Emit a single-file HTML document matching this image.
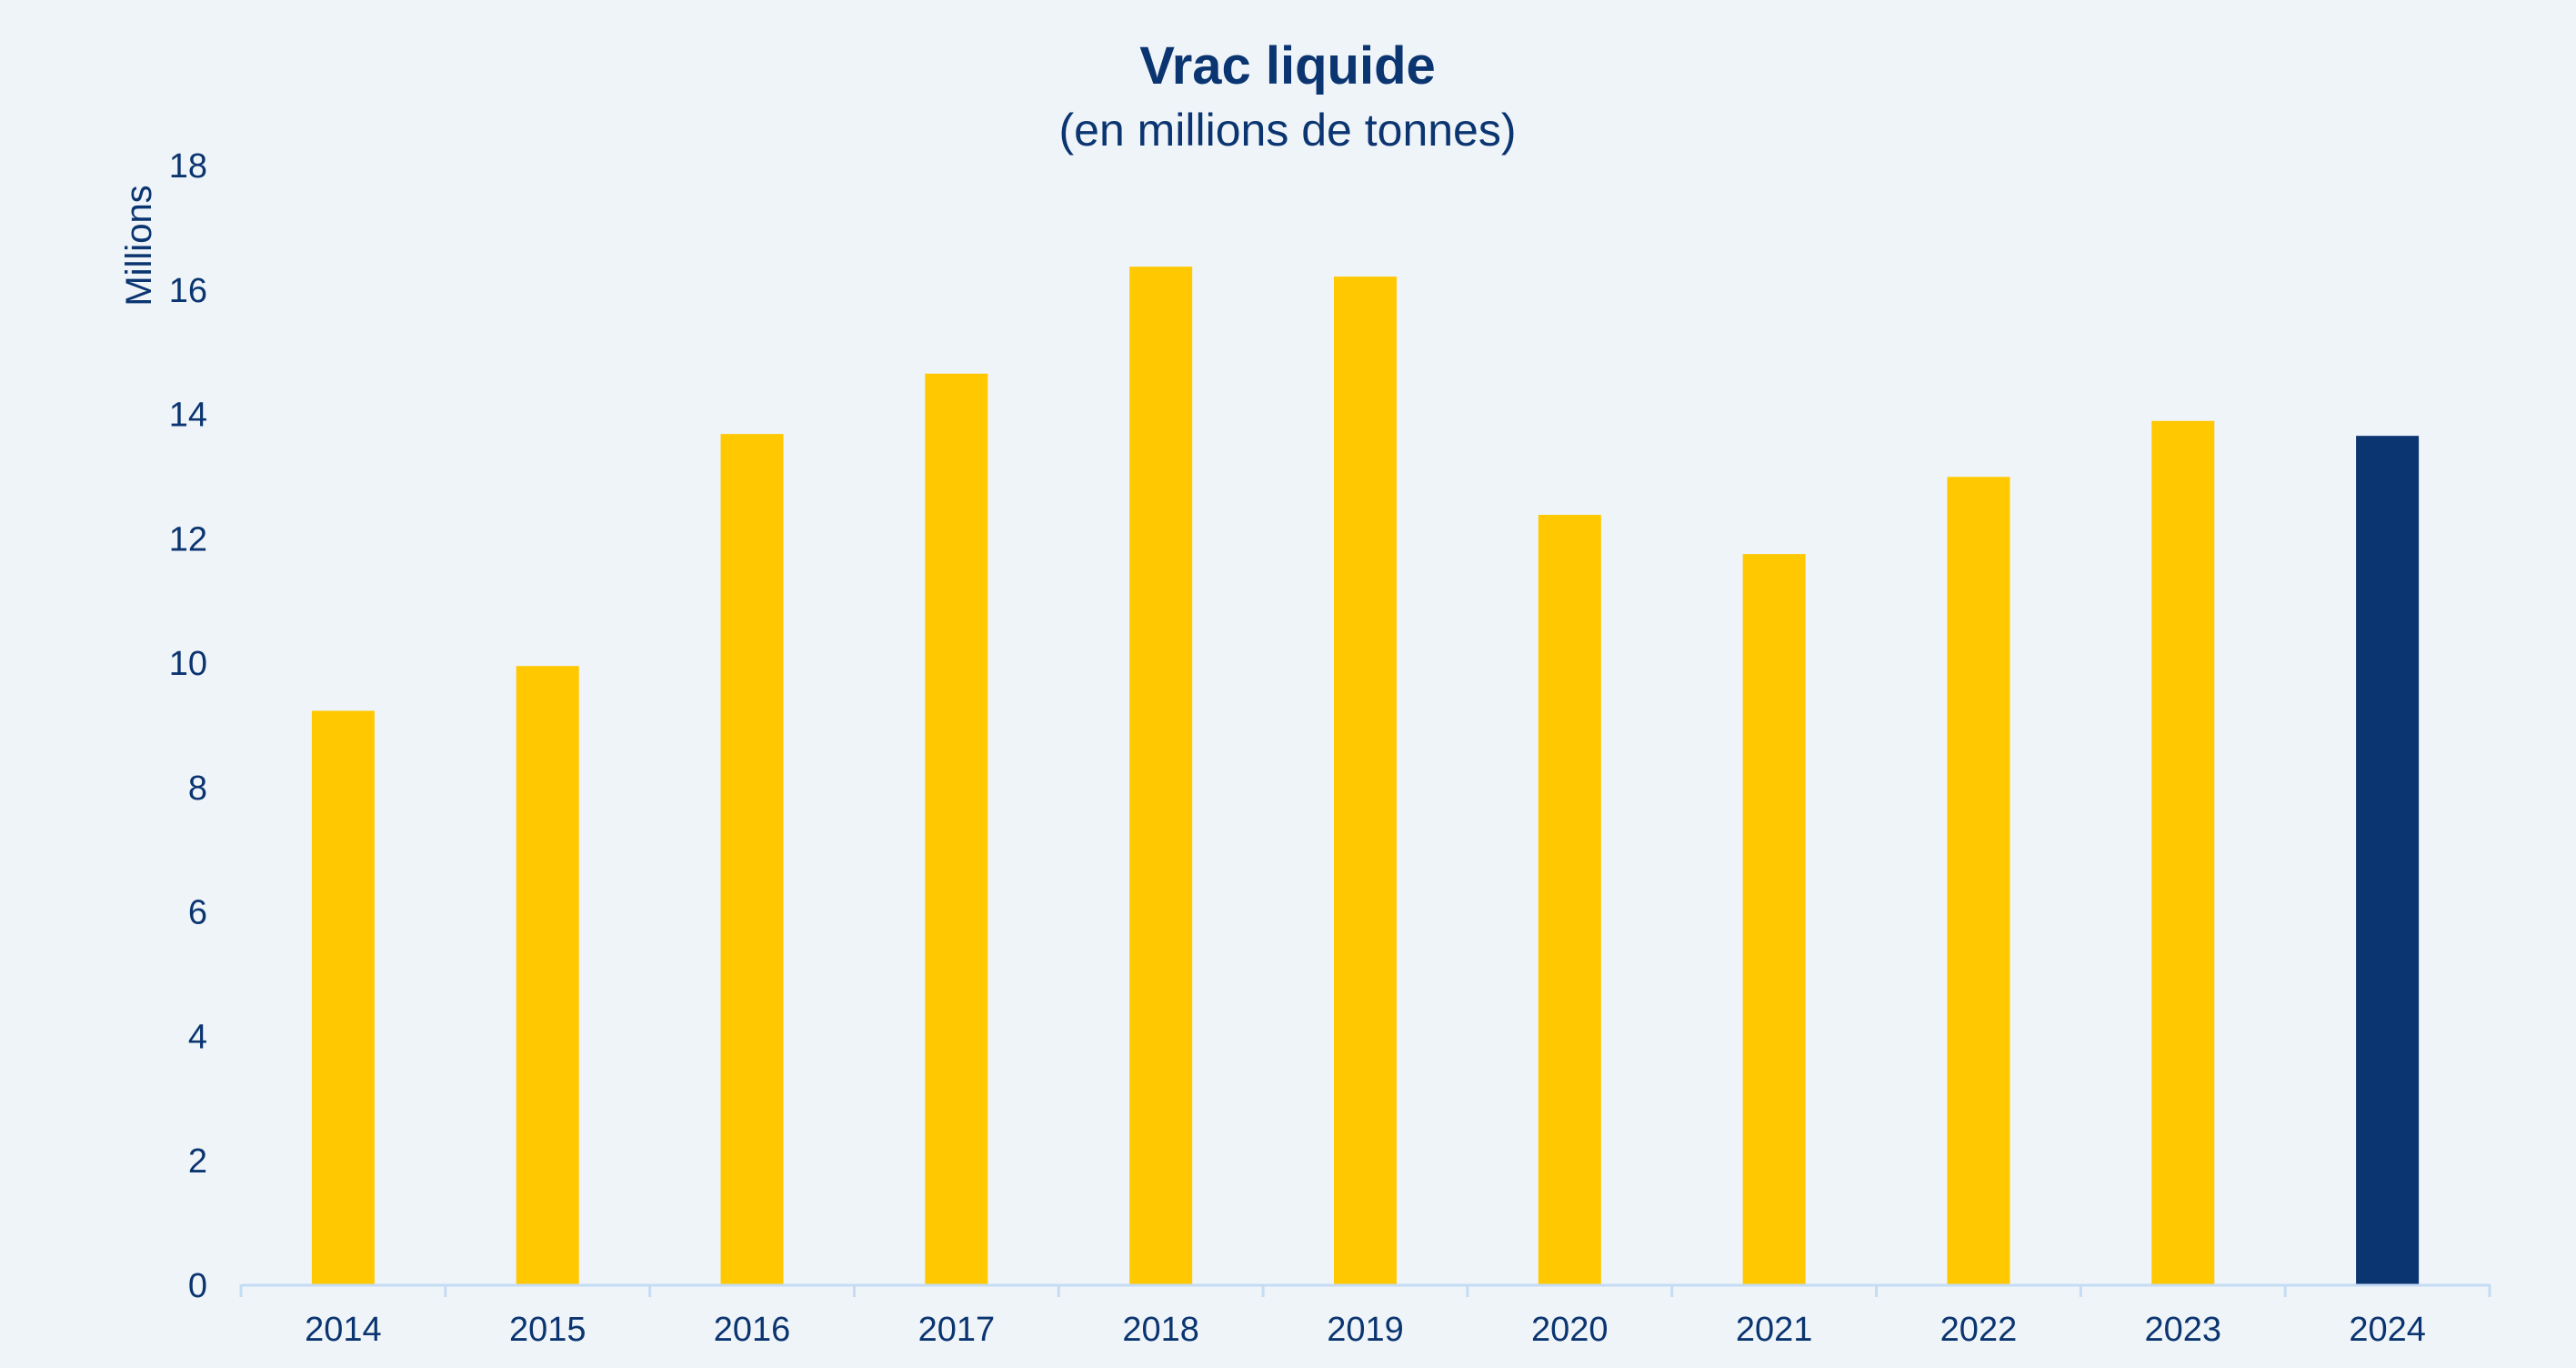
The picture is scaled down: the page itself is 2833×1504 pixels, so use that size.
<!DOCTYPE html>
<html><head><meta charset="utf-8"><style>
html,body{margin:0;padding:0;background:#eff4f9;}
svg{display:block;font-family:"Liberation Sans",sans-serif;}
</style></head><body>
<svg width="2833" height="1504" viewBox="0 0 2833 1504">
<rect width="2833" height="1504" fill="#eff4f9"/>
<text x="1416" y="92" text-anchor="middle" font-size="58" font-weight="bold" fill="#0b3570">Vrac liquide</text>
<text x="1416" y="160" text-anchor="middle" font-size="50" fill="#0b3570">(en millions de tonnes)</text>
<text transform="translate(166,270) rotate(-90)" text-anchor="middle" font-size="40" fill="#0b3570">Millions</text>
<g id="yticks"></g><g id="bars"></g><g id="xaxis"></g>
</svg>
<script>
const categories=["2014","2015","2016","2017","2018","2019","2020","2021","2022","2023","2024"];
const values=[9.22,9.94,13.67,14.64,16.36,16.2,12.37,11.74,12.98,13.88,13.64];
const yTicks=[0,2,4,6,8,10,12,14,16,18];
const NS="http://www.w3.org/2000/svg";
const x0=265,x1=2738,yZero=1412,yTop=181,yMax=18;
const band=(x1-x0)/categories.length,barW=69;
function y(v){return yZero-(v/yMax)*(yZero-yTop);}
function xc(i){return x0+band*(i+0.5);}
function mk(t,a,p){const e=document.createElementNS(NS,t);for(const k in a)e.setAttribute(k,a[k]);p.appendChild(e);return e;}
const yt=document.getElementById('yticks');
yTicks.forEach(v=>{const t=mk('text',{x:228,y:y(v)+14,'text-anchor':'end','font-size':38,fill:'#0b3570'},yt);t.textContent=v;

});
const bg=document.getElementById('bars');
values.forEach((v,i)=>{const r=mk('rect',{x:xc(i)-barW/2,y:y(v),width:barW,height:yZero-y(v),fill:i===values.length-1?'#0b3570':'#ffc800'},bg);

});
const xa=document.getElementById('xaxis');
const ax=mk('line',{x1:x0,x2:x1,y1:yZero+1,y2:yZero+1,stroke:'#c5dcf5','stroke-width':3},xa);


for(let i=0;i<=categories.length;i++){const l=mk('line',{x1:x0+band*i,x2:x0+band*i,y1:yZero,y2:yZero+14,stroke:'#c5dcf5','stroke-width':3},xa);

}
categories.forEach((c,i)=>{const t=mk('text',{x:xc(i),y:1474,'text-anchor':'middle','font-size':38,fill:'#0b3570'},xa);t.textContent=c;

});
</script>
</body></html>
